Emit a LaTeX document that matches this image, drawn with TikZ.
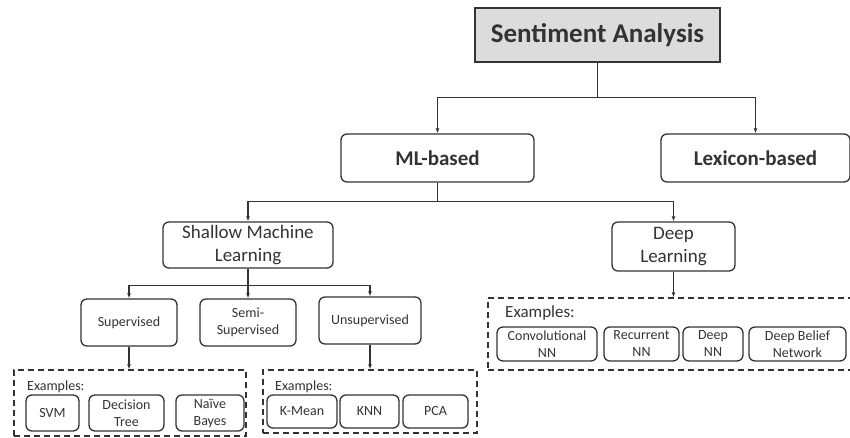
\documentclass[tikz,border=0pt]{standalone}
\usepackage{fontspec}
\setmainfont{Carlito}
\usepackage{tikz}
\usetikzlibrary{arrows.meta,positioning,calc}
\definecolor{ln}{HTML}{333333}
\definecolor{hd}{HTML}{DCDCDC}

\begin{document}
\begin{tikzpicture}[x=1pt,y=-1pt,
  box/.style={draw=ln,line width=1.3pt,rounded corners=6pt,text=ln,align=center,inner sep=0pt},
  mid/.style={box,font=\fontsize{19}{23}\selectfont},
  small/.style={box,font=\fontsize{14}{17}\selectfont},
  exbox/.style={draw=ln,line width=1.3pt,dash pattern=on 6pt off 4pt,inner sep=0pt},
  exlab/.style={anchor=west,inner sep=0pt,text=ln},
  arr/.style={draw=ln,line width=1.2pt,-{Latex[length=5pt,width=4pt]}}]
  \useasboundingbox (0,0) rectangle (850,438);

  % top levels
  \node[draw=ln,fill=hd,line width=1.3pt,minimum width=245pt,minimum height=54pt,
    text=ln,font=\bfseries\fontsize{27}{32}\selectfont] (sa) at (597.5,35) {Sentiment Analysis};
  \node[box,minimum width=193pt,minimum height=48pt,font=\bfseries\fontsize{21}{25}\selectfont]
    (ml) at (437.5,158) {ML-based};
  \node[box,minimum width=189pt,minimum height=48pt,font=\bfseries\fontsize{21}{25}\selectfont]
    (lex) at (755.5,158) {Lexicon-based};

  % ML families
  \node[mid,minimum width=170pt,minimum height=46pt] (sml) at (248,245) {Shallow Machine\\Learning};
  \node[mid,minimum width=123pt,minimum height=49pt] (dl) at (673.5,246.5) {Deep\\Learning};

  % shallow learning types
  \node[small,minimum width=96pt,minimum height=47pt] (sup) at (129,322.5) {Supervised};
  \node[small,minimum width=96pt,minimum height=47pt] (semi) at (248,322.5) {Semi-\\Supervised};
  \node[small,minimum width=102pt,minimum height=47pt] (unsup) at (370,320.5) {Unsupervised};

  % example groups
  \node[exbox,minimum width=232pt,minimum height=66pt] (exA) at (130,403) {};
  \node[exbox,minimum width=214pt,minimum height=63pt] (exB) at (370,401.5) {};
  \node[exbox,minimum width=367pt,minimum height=72pt] (exC) at (671.5,334) {};
  \node[exlab,font=\fontsize{14}{17}\selectfont] (exAl) at (27,387) {Examples:};
  \node[exlab,font=\fontsize{14}{17}\selectfont] (exBl) at (275,387) {Examples:};
  \node[exlab,font=\fontsize{17}{20}\selectfont] (exCl) at (505,313) {Examples:};

  \node[small,minimum width=53pt,minimum height=36pt] (svm) at (52.5,413) {SVM};
  \node[small,minimum width=75pt,minimum height=36pt] (dt) at (126.5,413) {Decision\\Tree};
  \node[small,minimum width=68pt,minimum height=36pt] (nb) at (210,413) {Naïve\\Bayes};

  \node[small,minimum width=70pt,minimum height=33pt] (km) at (302,411.5) {K-Mean};
  \node[small,minimum width=59pt,minimum height=33pt] (knn) at (369.5,411.5) {KNN};
  \node[small,minimum width=65pt,minimum height=33pt] (pca) at (435.5,411.5) {PCA};

  \node[small,minimum width=100pt,minimum height=34pt] (cnn) at (547,344) {Convolutional\\NN};
  \node[small,minimum width=75pt,minimum height=34pt] (rnn) at (641.5,344) {Recurrent\\NN};
  \node[small,minimum width=60pt,minimum height=34pt] (dnn) at (713,344) {Deep\\NN};
  \node[small,minimum width=97pt,minimum height=34pt] (dbn) at (797.5,344) {Deep Belief\\Network};

  % connectors
  \draw[arr] (sa.south) -- ++(0,35) -| (ml.north);
  \draw[arr] (sa.south) -- ++(0,35) -| (lex.north);
  \draw[arr] (ml.south) -- ++(0,19) -| (sml.north);
  \draw[arr] (ml.south) -- ++(0,19) -| (dl.north);
  \draw[arr] (sml.south) -- ++(0,17) -| (sup.north);
  \draw[arr] (sml.south) -- (semi.north);
  \draw[arr] (sml.south) -- ++(0,17) -| (unsup.north);
  \draw[arr] (sup.south) -- (sup.south |- exA.north);
  \draw[arr] (unsup.south) -- (unsup.south |- exB.north);
  \draw[arr] (dl.south) -- (dl.south |- exC.north);
\end{tikzpicture}
\end{document}
